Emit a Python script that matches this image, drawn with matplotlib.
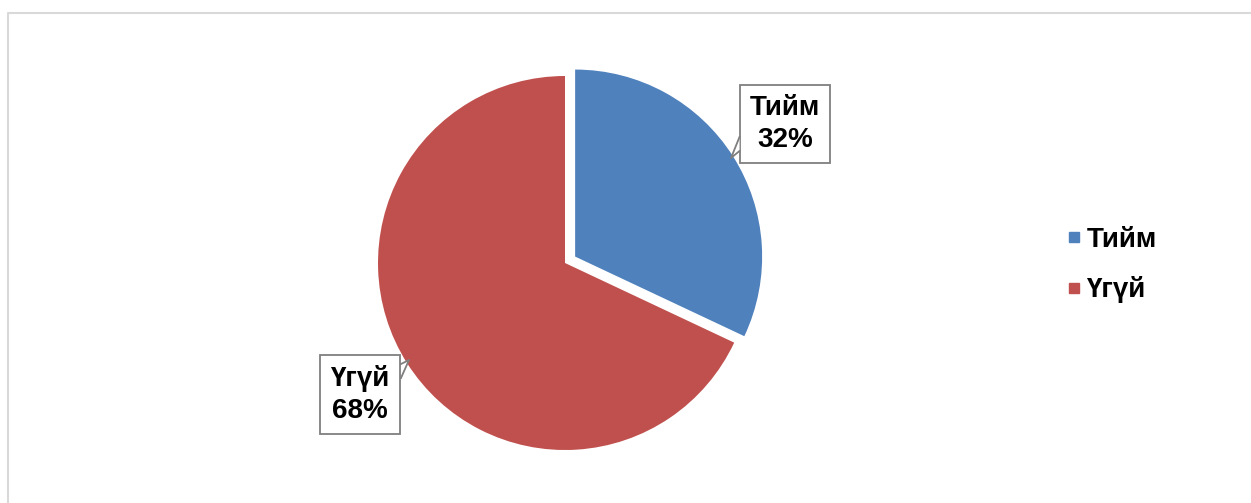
import matplotlib.pyplot as plt
from matplotlib.patches import Polygon
from matplotlib.lines import Line2D

plt.rcParams['font.family'] = ['Liberation Sans', 'DejaVu Sans']

labels = ['Тийм', 'Үгүй']
shares = [32, 68]
colors = ['#4F81BD', '#C0504D']

W, H = 1251, 503
fig = plt.figure(figsize=(W / 100, H / 100), dpi=100)
ax = fig.add_axes([0, 0, 1, 1])

# pie drawn in pixel coordinates (y up); explode is in data units here
cx, cy, r = 565, H - 263, 187
wedges, _ = ax.pie(shares, colors=colors, explode=[12, 0], startangle=90,
                   counterclock=False, center=(cx, cy), radius=r,
                   wedgeprops=dict(linewidth=0))
ax.set_xlim(0, W)
ax.set_ylim(0, H)
ax.set_aspect('auto')
ax.axis('off')

# chart area frame (only top and left edges visible)
ax.add_line(Line2D([7.5, 7.5, W], [0, H - 12.5, H - 12.5],
                   color='#d9d9d9', linewidth=1.5))

# data labels as callouts
def callout(text, x, y, tri):
    ax.text(x, y, text, ha='center', va='center', fontsize=20,
            fontweight='bold', linespacing=1.3, zorder=5,
            bbox=dict(boxstyle='square,pad=0.36', facecolor='white',
                      edgecolor='#7f7f7f', linewidth=1.3))
    ax.add_patch(Polygon(tri, closed=True, facecolor='white',
                         edgecolor='none', zorder=6))
    ax.add_line(Line2D([tri[0][0], tri[1][0], tri[2][0]],
                       [tri[0][1], tri[1][1], tri[2][1]],
                       color='#7f7f7f', linewidth=1.3, zorder=7))

callout('%s\n%d%%' % (labels[0], shares[0]), 785, H - 124,
        [(739.5, H - 137), (731, H - 158), (739.5, H - 151)])
callout('%s\n%d%%' % (labels[1], shares[1]), 360, H - 394,
        [(401, H - 364), (409, H - 360), (401, H - 378)])

handles = [Line2D([], [], marker='s', linestyle='none', markersize=7,
                  markerfacecolor=c, markeredgecolor=c) for c in colors]
leg = ax.legend(handles, labels, loc='center left',
                bbox_to_anchor=(1042, H - 265), bbox_transform=ax.transData,
                frameon=False, handlelength=0.5, handletextpad=0.2,
                labelspacing=0.85, prop=dict(size=20, weight='bold'))

fig.savefig('out.png', dpi=100)
